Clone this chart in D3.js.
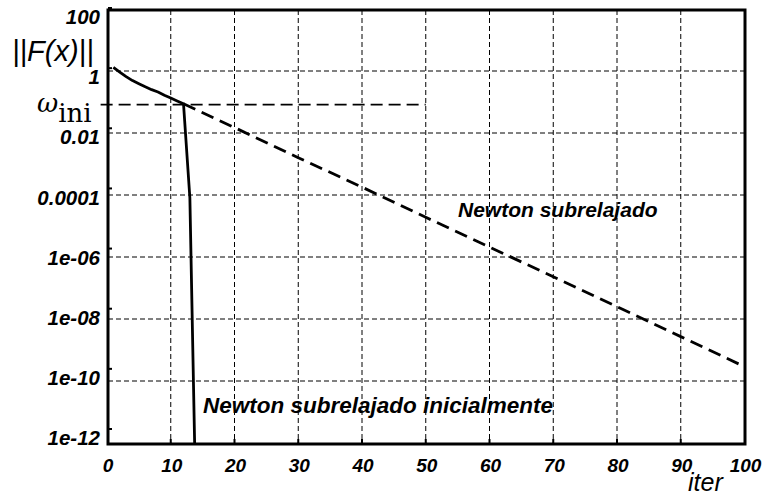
<!DOCTYPE html>
<html>
<head>
<meta charset="utf-8">
<script src="https://cdn.jsdelivr.net/npm/d3@7"></script>
<style>
  body { margin: 0; background: #fff; }
  .tick-label { font-family: "Liberation Sans", Arial, sans-serif; font-weight: bold; font-style: italic; fill: #000; }
</style>
</head>
<body>
<div id="chart"></div>
<script>
// Chart data
var iterSolid = [1, 2, 3, 4, 5, 6, 7, 8, 9, 10, 11, 12, 13, 14];
var normSolid = [1.3, 0.92, 0.66, 0.49, 0.39, 0.31, 0.25, 0.21, 0.166, 0.134, 0.108, 0.088, 8e-5, 2e-15];

var iterDashed = [12, 20, 30, 40, 50, 60, 70, 80, 90, 100];
var normDashed = [0.088, 0.015, 1.6e-3, 1.8e-4, 1.9e-5, 2.1e-6, 2.3e-7, 2.5e-8, 2.7e-9, 2.9e-10];

var omegaIni = 0.082;
var omegaRange = [-1, 50];

var xTicks = [0, 10, 20, 30, 40, 50, 60, 70, 80, 90, 100];
var yTicks = [100, 1, 0.01, 0.0001, 1e-6, 1e-8, 1e-10, 1e-12];
var yTickLabels = ["100", "1", "0.01", "0.0001", "1e-06", "1e-08", "1e-10", "1e-12"];
var xGrid = [10, 20, 30, 40, 50, 60, 70, 80, 90];
var yGrid = [1, 0.01, 0.0001, 1e-6, 1e-8, 1e-10];

// Set up SVG
var svgWidth = 765;
var svgHeight = 498;

var svg = d3.select("#chart").append("svg")
    .attr("width", svgWidth)
    .attr("height", svgHeight);

var x = d3.scaleLinear().domain([0, 100]).range([107, 744.5]);
var y = d3.scaleLog().domain([1e-12, 100]).range([443, 9]);
// the tick marks / labels of the original sit on a slightly different scale
var yTickPos = d3.scaleLog().domain([1e-12, 100]).range([429, 8]);

var plotLeft = 108, plotRight = 745, plotTop = 10, plotBottom = 444;

svg.append("clipPath").attr("id", "plot-clip")
  .append("rect")
    .attr("x", plotLeft).attr("y", plotTop)
    .attr("width", plotRight - plotLeft).attr("height", plotBottom - plotTop);

// grid
var grid = svg.append("g")
    .attr("stroke", "#000")
    .attr("stroke-width", 1)
    .attr("stroke-dasharray", "5,3");

grid.selectAll(".vgrid")
  .data(xGrid)
  .enter()
  .append("line")
    .attr("x1", d => x(d)).attr("x2", d => x(d))
    .attr("y1", plotTop).attr("y2", plotBottom);

grid.selectAll(".hgrid")
  .data(yGrid)
  .enter()
  .append("line")
    .attr("x1", plotLeft).attr("x2", plotRight)
    .attr("y1", d => y(d)).attr("y2", d => y(d));

// omega_ini reference line
svg.append("line")
    .attr("x1", x(omegaRange[0])).attr("x2", x(omegaRange[1]))
    .attr("y1", y(omegaIni)).attr("y2", y(omegaIni))
    .attr("stroke", "#000")
    .attr("stroke-width", 1.6)
    .attr("stroke-dasharray", "12,6");

var line = d3.line()
    .x(d => x(d[0]))
    .y(d => y(d[1]));

var plot = svg.append("g").attr("clip-path", "url(#plot-clip)");

plot.append("path")
    .datum(d3.zip(iterDashed, normDashed))
    .attr("d", line)
    .attr("fill", "none")
    .attr("stroke", "#000")
    .attr("stroke-width", 2.8)
    .attr("stroke-dasharray", "13,7");

plot.append("path")
    .datum(d3.zip(iterSolid, normSolid))
    .attr("d", line)
    .attr("fill", "none")
    .attr("stroke", "#000")
    .attr("stroke-width", 2.8)
    .attr("stroke-linejoin", "round");

// frame
svg.append("rect")
    .attr("x", plotLeft).attr("y", plotTop)
    .attr("width", plotRight - plotLeft).attr("height", plotBottom - plotTop)
    .attr("fill", "none")
    .attr("stroke", "#000")
    .attr("stroke-width", 3);

// tick stubs
svg.selectAll(".ystub")
  .data(yTicks)
  .enter()
  .append("line")
    .attr("x1", plotLeft).attr("x2", plotLeft + 4)
    .attr("y1", d => yTickPos(d)).attr("y2", d => yTickPos(d))
    .attr("stroke", "#000").attr("stroke-width", 2);

svg.selectAll(".xstub")
  .data(xGrid)
  .enter()
  .append("line")
    .attr("x1", d => x(d)).attr("x2", d => x(d))
    .attr("y1", plotBottom).attr("y2", plotBottom - 5)
    .attr("stroke", "#000").attr("stroke-width", 2);

// tick labels
svg.selectAll(".ylab")
  .data(yTicks)
  .enter()
  .append("text")
    .attr("class", "tick-label")
    .attr("x", 100)
    .attr("y", d => yTickPos(d) + 9)
    .attr("dy", "0.35em")
    .attr("text-anchor", "end")
    .style("font-size", "20.5px")
    .text((d, i) => yTickLabels[i]);

svg.selectAll(".xlab")
  .data(xTicks)
  .enter()
  .append("text")
    .attr("class", "tick-label")
    .attr("x", d => x(d) + 1)
    .attr("y", 472)
    .attr("text-anchor", "middle")
    .style("font-size", "19px")
    .text(d => d);

// axis titles
svg.append("text")
    .attr("x", 12)
    .attr("y", 61)
    .style("font-family", "Liberation Sans, Arial, sans-serif")
    .style("font-style", "italic")
    .style("font-size", "29px")
    .text("||F(x)||");

svg.append("text")
    .attr("x", 688)
    .attr("y", 491)
    .style("font-family", "Liberation Sans, Arial, sans-serif")
    .style("font-style", "italic")
    .style("font-size", "25px")
    .text("iter");

var omegaLabel = svg.append("text")
    .attr("x", 37)
    .attr("y", 112)
    .style("font-family", "DejaVu Serif, serif")
    .style("font-size", "26px");
omegaLabel.append("tspan").style("font-style", "italic").text("ω");
omegaLabel.append("tspan").attr("dy", 10).text("ini");

// series annotations
svg.append("text")
    .attr("class", "tick-label")
    .attr("x", 458)
    .attr("y", 217)
    .style("font-size", "21px")
    .text("Newton subrelajado");

svg.append("text")
    .attr("class", "tick-label")
    .attr("x", 203)
    .attr("y", 413)
    .style("font-size", "22.5px")
    .text("Newton subrelajado inicialmente");
</script>
</body>
</html>
